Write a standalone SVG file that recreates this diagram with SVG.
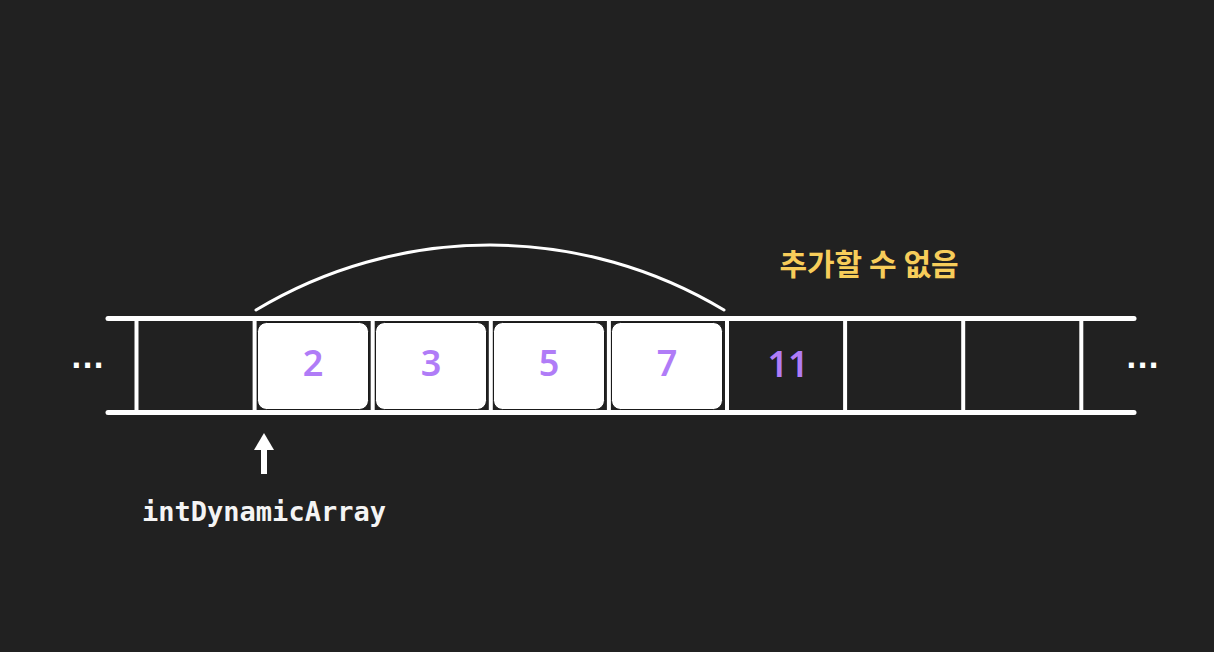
<svg xmlns="http://www.w3.org/2000/svg" width="1214" height="652" viewBox="0 0 1214 652">
  <style>
    .rail { stroke: #ffffff; stroke-width: 5; stroke-linecap: round; fill: none; }
    .div { stroke: #ffffff; stroke-width: 4; fill: none; }
    .box { fill: #ffffff; stroke: #1a1a1a; stroke-width: 1; }
    .num { font-family: "Noto Sans", "DejaVu Sans", sans-serif; font-size: 36px; font-weight: 600; fill: #b07cf7; text-anchor: middle; }
    .dots { font-family: "DejaVu Sans", sans-serif; font-size: 28px; font-weight: bold; fill: #ffffff; letter-spacing: 0.5px; }
    .label { font-family: "DejaVu Sans Mono", "Liberation Mono", monospace; font-size: 27px; font-weight: bold; fill: #f4f4f4; text-anchor: middle; }
    .warn { font-family: "Noto Sans CJK KR", "Noto Sans", sans-serif; font-size: 30px; font-weight: bold; fill: #f7cd5a; text-anchor: middle; }
  </style>
  <rect x="0" y="0" width="1214" height="652" fill="#212121"/>

  <g id="connectors">
    <path d="M 256 310 A 454 454 0 0 1 724 310" fill="none" stroke="#ffffff" stroke-width="3" stroke-linecap="round"/>
    <line x1="264" y1="474" x2="264" y2="448" stroke="#ffffff" stroke-width="6"/>
    <polygon points="254,450 274,450 264,433" fill="#ffffff"/>
  </g>

  <g id="array">
    <line class="rail" x1="108" y1="318.5" x2="1134" y2="318.5"/>
    <line class="rail" x1="108" y1="412.5" x2="1134" y2="412.5"/>
    <line class="div" x1="136.5" y1="318" x2="136.5" y2="412"/>
    <line class="div" x1="254.6" y1="318" x2="254.6" y2="412"/>
    <line class="div" x1="372.7" y1="318" x2="372.7" y2="412"/>
    <line class="div" x1="490.8" y1="318" x2="490.8" y2="412"/>
    <line class="div" x1="608.9" y1="318" x2="608.9" y2="412"/>
    <line class="div" x1="727" y1="318" x2="727" y2="412"/>
    <line class="div" x1="845.1" y1="318" x2="845.1" y2="412"/>
    <line class="div" x1="963.2" y1="318" x2="963.2" y2="412"/>
    <line class="div" x1="1081.3" y1="318" x2="1081.3" y2="412"/>
  </g>

  <g id="node-2">
    <rect class="box" x="257.5" y="322.5" width="111" height="87" rx="9"/>
    <text class="num" x="313" y="376">2</text>
  </g>
  <g id="node-3">
    <rect class="box" x="375.5" y="322.5" width="111" height="87" rx="9"/>
    <text class="num" x="431" y="376">3</text>
  </g>
  <g id="node-5">
    <rect class="box" x="493.5" y="322.5" width="111" height="87" rx="9"/>
    <text class="num" x="549" y="376">5</text>
  </g>
  <g id="node-7">
    <rect class="box" x="611.5" y="322.5" width="111" height="87" rx="9"/>
    <text class="num" x="667" y="376">7</text>
  </g>
  <g id="node-11">
    <text class="num" x="788" y="377">11</text>
  </g>

  <g id="dots-left">
    <text class="dots" x="71" y="368">...</text>
  </g>
  <g id="dots-right">
    <text class="dots" x="1126" y="368">...</text>
  </g>

  <g id="label-pointer">
    <text class="label" x="264" y="521">intDynamicArray</text>
  </g>
  <g id="label-warning">
    <text class="warn" x="869" y="275">추가할 수 없음</text>
  </g>
</svg>
